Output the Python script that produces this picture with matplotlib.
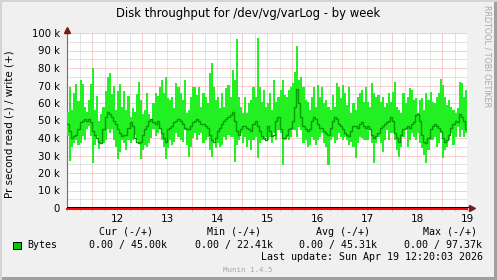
import matplotlib
matplotlib.use('Agg')
import matplotlib.pyplot as plt
import matplotlib.transforms as mtransforms
from matplotlib.patches import Rectangle
import numpy as np

# ---------------- data (values in k bytes/s, hourly, from Apr 11 12:00) -------------
day_labels = [12, 13, 14, 15, 16, 17, 18, 19]
start_day = 11.5          # day 11, 12:00
hours_per_day = 24

write_max = [
    55, 69, 56, 66, 71, 61, 73, 71, 58, 55, 62, 71, 80, 56, 64, 50, 54, 58, 67, 75,
    77, 65, 70, 56, 67, 71, 58, 67, 56, 64, 52, 57, 55, 65, 72, 62, 54, 56, 66, 54,
    51, 60, 66, 64, 69, 73, 66, 75,
    62.7, 61.7, 63.6, 57.0, 71.2, 69.3, 65.5, 61.7, 73.1, 54.1, 56.0, 63.6, 69.3, 69.3,
    64.6, 69.3, 57.9, 65.5, 63.6, 59.8, 77.0, 83.0, 69.3, 61.7, 63.6, 57.0, 65.5, 57.9,
    68.4, 70.3, 63.6, 79.0, 73.1, 96.6, 63.6, 57.9, 54.1, 63.6, 54.1, 59.8, 61.7, 69.3,
    63.6, 97.37, 69.3, 60.8, 67.4, 57.9,
    59.8, 65.5, 56.0, 73.1, 60.8, 63.6, 67.4, 73.1, 64.6, 63.6, 67.4, 69.3, 71.2, 78.0,
    92.5, 73.1, 75.0, 69.3, 61.7, 60.8, 56.0, 63.6, 69.3, 57.9, 70.3, 63.6, 69.3, 59.8,
    61.7, 57.9, 56.0, 64.6, 57.9, 71.2, 69.3, 62.7, 70.3, 65.5, 58.9, 69.3, 54.1, 59.8,
    56.0, 63.6, 65.5, 67.4, 60.8, 69.3,
    60.8, 57.9, 71.2, 65.5, 63.6, 64.6, 60.8, 63.6, 57.9, 59.8, 65.5, 60.8, 66.5, 72.2,
    57.9, 56.0, 54.1, 65.5, 59.8, 63.6, 68.4, 67.4, 61.7, 62.7, 54.1, 61.7, 62.7, 56.0,
    65.5, 61.7, 66.5, 60.8, 59.8, 63.6, 65.5, 74.0, 70.3, 63.6, 58.9, 61.7, 57.9, 56.0,
    54.1, 57.0, 72.2, 71.2, 63.6, 67.4,
]
write_min = [
    41, 27, 35, 37, 39, 36, 37, 41, 39, 45, 47, 41, 26, 36, 41, 34, 38, 37, 39, 45,
    43, 45, 39, 35, 28, 32, 39, 37, 33, 39, 37, 39, 42, 39, 37, 28, 33, 36, 35, 37,
    40, 45, 41, 43, 45, 39, 35, 28,
    34.1, 38.9, 36.0, 37.9, 42.7, 40.8, 38.9, 37.9, 44.6, 36.0, 29.3, 35.0, 39.8, 42.7,
    38.9, 41.7, 42.7, 37.0, 38.9, 40.8, 33.1, 29.3, 38.9, 34.1, 37.0, 35.0, 36.0, 40.8,
    38.9, 41.7, 40.8, 40.8, 26.5, 36.0, 38.9, 42.7, 37.0, 40.8, 35.0, 38.9, 33.1, 38.9,
    40.8, 28.4, 37.0, 38.9, 38.9, 40.8,
    38.9, 40.8, 37.0, 42.7, 38.9, 44.6, 42.7, 24.6, 38.9, 40.8, 38.9, 40.8, 44.6, 44.6,
    40.8, 46.5, 44.6, 37.0, 38.9, 35.0, 36.0, 40.8, 38.9, 36.0, 38.9, 40.8, 42.7, 37.0,
    35.0, 24.6, 38.9, 40.8, 37.0, 38.9, 42.7, 40.8, 38.9, 40.8, 38.9, 36.0, 37.9, 35.0,
    28.4, 37.0, 40.8, 39.8, 38.9, 38.9,
    38.9, 44.6, 37.0, 25.5, 37.0, 40.8, 37.0, 32.2, 38.9, 44.6, 38.9, 42.7, 42.7, 38.9,
    33.1, 29.3, 35.0, 40.8, 44.6, 35.0, 38.9, 42.7, 40.8, 38.9, 42.7, 37.0, 34.1, 30.2,
    25.5, 33.1, 38.9, 38.9, 40.8, 35.0, 37.0, 42.7, 28.4, 33.1, 35.0, 38.9, 42.7, 36.0,
    40.8, 46.5, 40.8, 44.6, 40.8, 42.7,
]
write_avg = [
    48, 44, 40, 41, 42, 45, 49, 50, 51, 50, 51, 49, 44, 42, 40, 38, 37, 45, 52, 55,
    54, 52, 50, 48, 45, 43, 41, 42, 42, 46, 49, 47, 40, 38, 37, 38, 42, 45, 47, 50,
    51, 49, 48, 50, 46, 43, 40, 38,
    45, 46, 47, 49, 50, 51, 50, 48, 46, 45, 45, 47, 49, 50, 51, 50, 48, 48, 47, 46,
    42, 39, 38, 40, 44, 46, 48, 50, 51, 52, 53, 55, 50, 44, 42, 45, 47, 47, 46, 45,
    44, 48, 50, 47, 44, 41, 40, 39,
    47, 44, 41, 42, 50, 52, 45, 40, 40, 42, 45, 46, 50, 58, 68, 60, 52, 47, 45, 44,
    45, 50, 52, 51, 48, 46, 46, 44, 43, 42, 46, 50, 52, 51, 48, 47, 45, 43, 42, 41,
    44, 47, 47, 46, 48, 49, 47, 46,
    47, 45, 42, 40, 41, 43, 46, 47, 48, 49, 50, 52, 50, 43, 40, 38, 42, 45, 46, 47,
    46, 48, 49, 53, 54, 50, 42, 38, 37, 40, 45, 47, 48, 47, 46, 44, 40, 38, 39, 42,
    46, 48, 50, 49, 54, 52, 50, 45,
]
read_vals = [0.0] * len(write_max)

y_ticks = [0, 10, 20, 30, 40, 50, 60, 70, 80, 90, 100]
y_tick_labels = ['0', '10 k', '20 k', '30 k', '40 k', '50 k', '60 k', '70 k', '80 k', '90 k', '100 k']

title = 'Disk throughput for /dev/vg/varLog - by week'
ylabel = 'Pr second read (-) / write (+)'
legend_name = 'Bytes'
col_headers = ['Cur (-/+)', 'Min (-/+)', 'Avg (-/+)', 'Max (-/+)']
col_values = ['0.00 / 45.00k', '0.00 / 22.41k', '0.00 / 45.31k', '0.00 / 97.37k']
last_update = 'Last update: Sun Apr 19 12:20:03 2026'
footer = 'Munin 1.4.5'
side_text = 'RRDTOOL / TOBI OETIKER'

# ---------------- figure -------------------------------------------------------------
W, H = 497, 280
fig = plt.figure(figsize=(W / 100, H / 100), dpi=100, facecolor='#f0f0f0')


def fx(px):
    return px / W


def fy(py):
    return 1 - py / H


ax = fig.add_axes([fx(67), fy(208), fx(400), 175 / H])
ax.set_facecolor('white')

n = len(write_max)
x = start_day + np.arange(n + 1) / hours_per_day
mx = np.append(write_max, write_max[-1])
mn = np.append(write_min, write_min[-1])
av = np.append(write_avg, write_avg[-1])

ax.fill_between(x, mn, mx, step='post', color='#22f022', lw=0, zorder=3)
ax.step(x, av, where='post', color='#009c00', lw=1.0, zorder=4)

ax.set_xlim(start_day, start_day + len(day_labels))
ax.set_ylim(0, 100)

# grid
ax.set_xticks(np.arange(12, 20))
ax.set_xticks(np.arange(start_day, start_day + len(day_labels) + 0.01, 0.25), minor=True)
ax.set_yticks(y_ticks)
ax.set_yticks(np.arange(5, 100, 10), minor=True)
ax.set_xticklabels([])
ax.set_yticklabels(y_tick_labels)
ax.grid(which='major', color='#f0a0a0', lw=0.72, ls=(0, (1, 1)), zorder=1)
ax.grid(which='minor', color='#c8c8c8', lw=0.72, ls=(0, (1, 1)), zorder=1)
ax.tick_params(axis='x', which='major', length=2.5, color='#e8a0a0', width=0.72)
ax.tick_params(axis='x', which='minor', length=2, color='#c8c8c8', width=0.72)
ax.tick_params(axis='y', which='both', length=0, labelsize=7.3, pad=5)

for s in ['top', 'right', 'bottom']:
    ax.spines[s].set_visible(False)
ax.spines['left'].set_color('#707070')
ax.spines['left'].set_linewidth(0.8)

for d in day_labels:
    ax.text(d + 0.5, -0.06, str(d), transform=ax.get_xaxis_transform(),
            ha='center', va='center', fontsize=7.5, color='black')

# zero lines: read series (red) and axis (black)
red_tr = mtransforms.offset_copy(ax.transData, fig=fig, x=0, y=-1.0, units='dots')
blk_tr = mtransforms.offset_copy(ax.transData, fig=fig, x=0, y=0.8, units='dots')
ax.step(x, np.append(read_vals, read_vals[-1]), where='post', color='#ff0000',
        lw=1.4, transform=red_tr, zorder=5, clip_on=False)
ax.plot([start_day, start_day + len(day_labels) + 0.06], [0, 0], color='black', lw=0.75,
        transform=blk_tr, zorder=6, clip_on=False)

# arrows
arr_top = mtransforms.offset_copy(ax.transAxes, fig=fig, x=0, y=3, units='dots')
ax.plot([0], [1], marker='^', ms=4.5, color='#7a1a1a', mec='#7a1a1a', transform=arr_top,
        clip_on=False, zorder=7)
ax.plot([0, 0], [0.98, 1.0], color='#707070', lw=0.8, transform=arr_top, clip_on=False)
arr_right = mtransforms.offset_copy(ax.transAxes, fig=fig, x=5, y=0, units='dots')
ax.plot([1], [0], marker='>', ms=4.5, color='#7a1a1a', mec='#7a1a1a', transform=arr_right,
        clip_on=False, zorder=7)

# texts
fig.text(fx(248), fy(14), title, ha='center', va='center', fontsize=8.4, color='black')
fig.text(fx(10), fy(124), ylabel, rotation=90, ha='center', va='center', fontsize=7.4,
         color='black')
fig.text(fx(487), fy(5), side_text, rotation=270, ha='center', va='top', fontsize=5.8,
         color='#a8a8a8')

mono = 'DejaVu Sans Mono'
fig.add_artist(Rectangle((fx(13), fy(249)), 8 / W, 7 / H, transform=fig.transFigure,
                         facecolor='#00cc00', edgecolor='black', lw=0.7))
fig.text(fx(27), fy(245), legend_name, family=mono, fontsize=7.2, va='center', ha='left')
hdr_x = [99, 207, 316, 423]
val_x = [89, 195, 299, 404]
for hx, h in zip(hdr_x, col_headers):
    fig.text(fx(hx), fy(232), h, family=mono, fontsize=7.2, va='center', ha='left')
for vx, v in zip(val_x, col_values):
    fig.text(fx(vx), fy(245), v, family=mono, fontsize=7.2, va='center', ha='left')
fig.text(fx(483), fy(257), last_update, family=mono, fontsize=7.2, va='center', ha='right')
fig.text(fx(248), fy(270), footer, family=mono, fontsize=5.4, va='center', ha='center',
         color='#a8a8a8')

# frame border
fig.add_artist(Rectangle((fx(494), 0), 3 / W, 1, transform=fig.transFigure,
                         facecolor='#a0a0a0', edgecolor='none'))
fig.add_artist(Rectangle((0, 0), 1, 3 / H, transform=fig.transFigure,
                         facecolor='#a0a0a0', edgecolor='none'))
fig.add_artist(Rectangle((0, 0), 2 / W, 1, transform=fig.transFigure,
                         facecolor='#d4d4d4', edgecolor='none'))
fig.add_artist(Rectangle((0, fy(2)), 1, 2 / H, transform=fig.transFigure,
                         facecolor='#d4d4d4', edgecolor='none'))

fig.savefig('out.png', dpi=100, facecolor=fig.get_facecolor())
